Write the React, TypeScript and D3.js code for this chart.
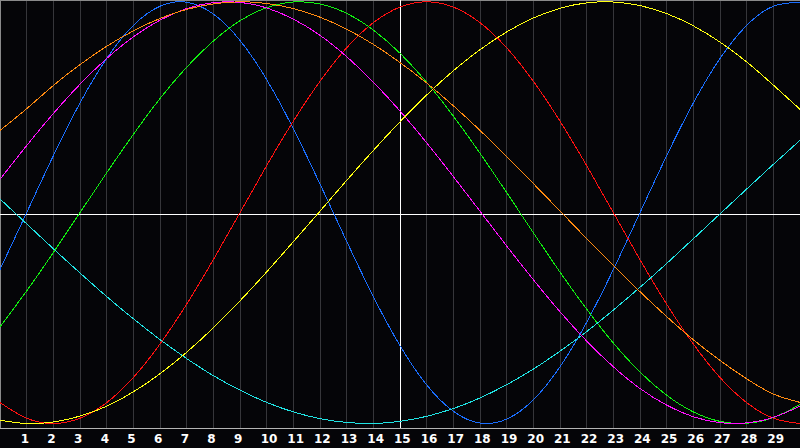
import { useEffect, useRef } from 'react';
import * as d3 from 'd3';

// day positions across the chart (0 = left edge, 30 = right edge)
const days = [0, 1, 2, 3, 4, 5, 6, 7, 8, 9, 10, 11, 12, 13, 14, 15, 16, 17, 18, 19, 20, 21, 22, 23, 24, 25, 26, 27, 28, 29, 30];
const dayLabels = [1, 2, 3, 4, 5, 6, 7, 8, 9, 10, 11, 12, 13, 14, 15, 16, 17, 18, 19, 20, 21, 22, 23, 24, 25, 26, 27, 28, 29];

// curve values (-1..1) at each day
const physical = [-0.27, 0, 0.27, 0.52, 0.731, 0.888, 0.979, 0.998, 0.942, 0.817, 0.631, 0.398, 0.136, -0.136, -0.398, -0.631, -0.817, -0.942, -0.998, -0.979, -0.888, -0.731, -0.52, -0.27, 0, 0.27, 0.52, 0.731, 0.888, 0.979, 0.998];
const emotional = [-0.901, -0.975, -1, -0.975, -0.901, -0.782, -0.623, -0.434, -0.223, 0, 0.223, 0.434, 0.623, 0.782, 0.901, 0.975, 1, 0.975, 0.901, 0.782, 0.623, 0.434, 0.223, 0, -0.223, -0.434, -0.623, -0.782, -0.901, -0.975, -1];
const intellectual = [-0.541, -0.371, -0.189, 0, 0.189, 0.371, 0.541, 0.69, 0.814, 0.91, 0.972, 0.999, 0.99, 0.945, 0.866, 0.756, 0.618, 0.458, 0.282, 0.095, -0.095, -0.282, -0.458, -0.618, -0.756, -0.866, -0.945, -0.99, -0.999, -0.972, -0.91];
const spiritual = [0.065, -0.053, -0.171, -0.286, -0.398, -0.503, -0.602, -0.692, -0.773, -0.842, -0.9, -0.945, -0.977, -0.995, -1, -0.99, -0.966, -0.929, -0.879, -0.816, -0.742, -0.657, -0.564, -0.462, -0.354, -0.241, -0.124, -0.006, 0.112, 0.229, 0.343];
const intuitive = [0.158, 0.318, 0.47, 0.609, 0.731, 0.834, 0.913, 0.968, 0.996, 0.997, 0.971, 0.918, 0.841, 0.74, 0.619, 0.482, 0.331, 0.171, 0.007, -0.158, -0.318, -0.47, -0.609, -0.731, -0.834, -0.913, -0.968, -0.996, -0.997, -0.971, -0.918];
const aesthetic = [-0.985, -1, -0.993, -0.965, -0.918, -0.85, -0.764, -0.662, -0.546, -0.418, -0.281, -0.138, 0.007, 0.153, 0.295, 0.431, 0.558, 0.673, 0.773, 0.857, 0.923, 0.969, 0.995, 0.999, 0.982, 0.944, 0.886, 0.809, 0.715, 0.605, 0.49];
const awareness = [0.39, 0.493, 0.603, 0.702, 0.789, 0.862, 0.921, 0.964, 0.99, 1, 0.992, 0.968, 0.927, 0.87, 0.798, 0.712, 0.615, 0.507, 0.39, 0.266, 0.138, 0.008, -0.123, -0.251, -0.375, -0.493, -0.603, -0.701, -0.788, -0.86, -0.9];

const seriesList = [
  { name: 'physical', color: '#1a6eff', values: physical },
  { name: 'emotional', color: '#ff1010', values: emotional },
  { name: 'intellectual', color: '#10f010', values: intellectual },
  { name: 'spiritual', color: '#20e4e4', values: spiritual },
  { name: 'intuitive', color: '#ff10ff', values: intuitive },
  { name: 'aesthetic', color: '#ffff10', values: aesthetic },
  { name: 'awareness', color: '#ff8a10', values: awareness },
];

export default function App() {
  const ref = useRef<SVGSVGElement>(null);

  useEffect(() => {
    const svg = d3.select(ref.current);
    svg.selectAll('*').remove();

    const width = 800;
    const height = 448;
    const plotH = 428;

    const x = d3.scaleLinear().domain([0, 30]).range([0, width]);
    const y = d3.scaleLinear().domain([-1, 1]).range([423.5, 1.8]);

    svg.append('rect').attr('width', width).attr('height', height).attr('fill', '#050508');

    // day grid
    svg.append('g')
      .selectAll('line')
      .data(days.slice(1, -1))
      .join('line')
      .attr('x1', d => Math.floor(x(d)) + 0.5)
      .attr('x2', d => Math.floor(x(d)) + 0.5)
      .attr('y1', 0)
      .attr('y2', plotH)
      .attr('stroke', '#36363a')
      .attr('shape-rendering', 'crispEdges');

    // frame
    svg.append('line').attr('x1', 0.5).attr('x2', 0.5).attr('y1', 0).attr('y2', plotH)
      .attr('stroke', '#8a8a8a').attr('shape-rendering', 'crispEdges');
    svg.append('line').attr('x1', 0).attr('x2', width).attr('y1', 0.5).attr('y2', 0.5)
      .attr('stroke', '#8a8a8a').attr('shape-rendering', 'crispEdges');
    svg.append('line').attr('x1', 0).attr('x2', width).attr('y1', plotH + 0.5).attr('y2', plotH + 0.5)
      .attr('stroke', '#b4b4b4').attr('shape-rendering', 'crispEdges');

    // centre cross
    svg.append('line').attr('x1', 0).attr('x2', width).attr('y1', plotH / 2 + 0.5).attr('y2', plotH / 2 + 0.5)
      .attr('stroke', '#ffffff').attr('shape-rendering', 'crispEdges');
    svg.append('line').attr('x1', x(15) + 0.5).attr('x2', x(15) + 0.5).attr('y1', 0).attr('y2', plotH)
      .attr('stroke', '#ffffff').attr('shape-rendering', 'crispEdges');

    const line = d3.line<number>()
      .x((_, i) => x(days[i]))
      .y(v => y(v))
      .curve(d3.curveNatural);

    svg.append('g')
      .selectAll('path')
      .data(seriesList)
      .join('path')
      .attr('d', s => line(s.values))
      .attr('fill', 'none')
      .attr('stroke', s => s.color)
      .attr('stroke-width', 1)
      .attr('shape-rendering', 'crispEdges');

    // day labels
    svg.append('g')
      .selectAll('text')
      .data(dayLabels)
      .join('text')
      .attr('x', d => x(d) - 6)
      .attr('y', 443)
      .attr('fill', '#ffffff')
      .attr('font-family', '"DejaVu Sans", sans-serif')
      .attr('font-weight', 'bold')
      .attr('font-size', '12px')
      .text(d => d);
  }, []);

  return (
    <svg ref={ref} width={800} height={448} style={{ position: 'fixed', left: 0, top: 0, display: 'block' }} />
  );
}
